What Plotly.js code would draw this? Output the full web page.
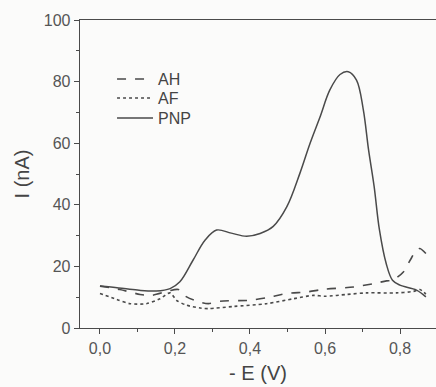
<!DOCTYPE html>
<html><head><meta charset="utf-8">
<script src="https://cdn.plot.ly/plotly-3.0.1.min.js"></script>
<style>html,body{margin:0;padding:0;background:#fbfbfa;}#chart{width:436px;height:387px;}</style>
</head><body><div id="chart"></div>
<script>
const seriesNames = ['AH', 'AF', 'PNP'];
const xAH = [0, 0.053, 0.107, 0.138, 0.182, 0.209, 0.231, 0.267, 0.289, 0.32, 0.4, 0.444, 0.498, 0.551, 0.6, 0.676, 0.729, 0.764, 0.78, 0.809, 0.827, 0.844, 0.853, 0.869];
const yAH = [13.6, 12.5, 10.9, 10.6, 12.0, 12.5, 10.1, 8.4, 7.9, 8.7, 9.0, 9.8, 11.2, 11.7, 12.6, 13.3, 14.4, 15.3, 15.5, 18.2, 22, 25.3, 25.8, 24.2];
const xAF = [0, 0.044, 0.08, 0.124, 0.16, 0.187, 0.204, 0.231, 0.267, 0.289, 0.356, 0.444, 0.516, 0.569, 0.6, 0.658, 0.711, 0.791, 0.836, 0.853, 0.869];
const yAF = [11.2, 9.3, 7.9, 7.9, 9.5, 11.4, 9.0, 7.4, 6.5, 6.3, 7.0, 7.9, 9.5, 10.6, 10.3, 10.9, 11.4, 11.4, 11.9, 12.5, 11.0];
const xPNP = [0, 0.05, 0.10, 0.15, 0.187, 0.213, 0.248, 0.28, 0.311, 0.35, 0.391, 0.427, 0.462, 0.498, 0.533, 0.56, 0.587, 0.613, 0.64, 0.662, 0.684, 0.702, 0.716, 0.731, 0.745, 0.763, 0.78, 0.8, 0.844, 0.869];
const yPNP = [13.6, 13.0, 12.3, 12.0, 12.8, 15, 22, 28.5, 31.8, 30.8, 29.8, 30.7, 33.0, 39.3, 50.2, 59.9, 68.6, 77.3, 82.3, 83.2, 80.5, 71, 58, 46, 32, 21, 15.5, 13.9, 12.3, 10.1];
const xTickVals = [0, 0.2, 0.4, 0.6, 0.8];
const yTickVals = [0, 20, 40, 60, 80, 100];

const col = '#4a4a4a';
const traces = [
  {x: xAH, y: yAH, name: seriesNames[0], legend: 'legend', mode: 'lines', line: {color: col, width: 1.6, dash: 'dash', shape: 'spline', smoothing: 0.8}},
  {x: xAF, y: yAF, name: seriesNames[1], legend: 'legend2', mode: 'lines', line: {color: col, width: 1.6, dash: 'dot', shape: 'spline', smoothing: 0.8}},
  {x: xPNP, y: yPNP, name: seriesNames[2], legend: 'legend3', mode: 'lines', line: {color: col, width: 1.5, shape: 'spline', smoothing: 1.0}}
];
const ff = 'Liberation Sans, Arial, sans-serif';
const axFont = {family: ff, size: 16, color: '#555'};
const legBase = {x: 0.09, xanchor: 'left', yanchor: 'top', bgcolor: 'rgba(0,0,0,0)', itemwidth: 36,
                 font: {family: ff, size: 16, color: '#444'}};
const layout = {
  width: 436, height: 387,
  margin: {l: 80, r: 0, t: 20, b: 59.3},
  paper_bgcolor: '#fbfbfa', plot_bgcolor: '#fbfbfa',
  separators: ', ',
  showlegend: true,
  legend: Object.assign({}, legBase, {y: 0.8635}),
  legend2: Object.assign({}, legBase, {y: 0.8018}),
  legend3: Object.assign({}, legBase, {y: 0.7368}),
  xaxis: {range: [-0.0533, 0.896], tickvals: xTickVals, tickformat: '.1f', showgrid: false, zeroline: false,
          showline: true, linecolor: col, linewidth: 1.3, mirror: true, ticks: 'outside', ticklen: 5, tickcolor: col,
          minor: {dtick: 0.1, tick0: 0.1, ticks: 'outside', ticklen: 3, tickcolor: col, showgrid: false},
          tickfont: axFont,
          title: {text: '- E (V)', font: {family: ff, size: 20, color: '#444'}, standoff: 10}},
  yaxis: {range: [0, 100], tickvals: yTickVals, showgrid: false, zeroline: false,
          showline: true, linecolor: col, linewidth: 1.3, ticks: 'outside', ticklen: 5, tickcolor: col,
          minor: {dtick: 10, tick0: 10, ticks: 'outside', ticklen: 3, tickcolor: col, showgrid: false},
          tickfont: axFont,
          title: {text: 'I (nA)', font: {family: ff, size: 20, color: '#444'}, standoff: 8}}
};
Plotly.newPlot('chart', traces, layout, {displayModeBar: false, staticPlot: true});
</script></body></html>
